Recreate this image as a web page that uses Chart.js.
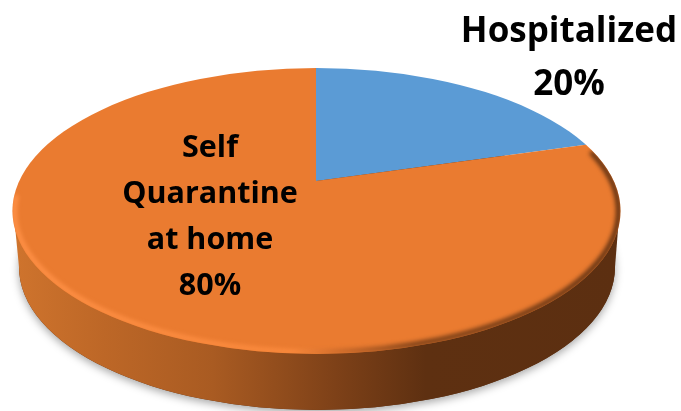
<!DOCTYPE html>
<html>
<head>
<meta charset="utf-8">
<script src="https://cdn.jsdelivr.net/npm/chart.js@4"></script>
<style>
  html, body { margin: 0; padding: 0; background: #fff; }
  canvas { display: block; }
</style>
</head>
<body>
<canvas id="pie" width="681" height="411"></canvas>
<script>
const categories = ["Hospitalized", "Self Quarantine at home"];
const values = [20, 80];
const sliceColors = ["#5b9bd5", "#ea7b30"];
const labelLines = [["Hospitalized"], ["Self", "Quarantine", "at home"]];

// top face of the disc, and where the slices meet (not the ellipse centre, it's in perspective)
const face = { x: 316.5, y: 211, rx: 304, ry: 143 };
const base = { x: 317, y: 267, rx: 298, ry: 143 };
const apex = { x: 316, y: 181 };
const tilt = 0.4134;

const ellipse = (ctx, e) => {
  ctx.beginPath();
  ctx.ellipse(e.x, e.y, e.rx, e.ry, 0, 0, Math.PI * 2);
};

const disc3d = {
  id: "disc3d",
  beforeDatasetsDraw: (chart) => {
    const { ctx } = chart;

    // soft shadow under the disc
    ctx.save();
    ctx.shadowColor = "rgba(0,0,0,0.35)";
    ctx.shadowBlur = 9;
    ctx.shadowOffsetY = 3;
    ctx.fillStyle = "#5c2f11";
    ellipse(ctx, base);
    ctx.fill();
    ctx.restore();

    // side wall
    const wall = ctx.createLinearGradient(face.x - face.rx, 0, face.x + face.rx, 0);
    wall.addColorStop(0, "#cf742d");
    wall.addColorStop(0.15, "#bd6727");
    wall.addColorStop(0.33, "#a95b22");
    wall.addColorStop(0.53, "#7e4118");
    wall.addColorStop(0.68, "#5e3011");
    wall.addColorStop(1, "#5c2f11");
    ctx.save();
    ctx.fillStyle = wall;
    ellipse(ctx, base);
    ctx.fill();
    ctx.beginPath();
    ctx.moveTo(face.x - face.rx + 1, face.y);
    ctx.lineTo(base.x - base.rx, base.y);
    ctx.lineTo(base.x + base.rx, base.y);
    ctx.lineTo(face.x + face.rx - 1, face.y);
    ctx.closePath();
    ctx.fill();
    ctx.restore();

    // slices get squashed around the apex and cut to the top face
    const c = chart.getDatasetMeta(0).data[0];
    ctx.save();
    ellipse(ctx, face);
    ctx.clip();
    ctx.translate(apex.x, apex.y);
    ctx.scale(1, tilt);
    ctx.translate(-c.x, -c.y);
  },
  afterDatasetsDraw: (chart) => {
    const { ctx } = chart;
    ctx.restore();

    // bevel along the front rim, light on the left, dark on the right
    const rim = ctx.createLinearGradient(face.x - face.rx, 0, face.x + face.rx, 0);
    rim.addColorStop(0, "#ff9147");
    rim.addColorStop(0.46, "#fb8a3d");
    rim.addColorStop(0.54, "#c9692a");
    rim.addColorStop(0.66, "#7a3f17");
    rim.addColorStop(1, "#5c2f11");
    ctx.save();
    ellipse(ctx, face);
    ctx.clip();
    ctx.filter = "blur(2px)";
    ctx.strokeStyle = rim;
    ctx.lineWidth = 5;
    ctx.lineCap = "round";
    ctx.beginPath();
    ctx.ellipse(face.x, face.y, face.rx - 2, face.ry - 2, 0, -0.42, Math.PI + 0.1);
    ctx.stroke();
    ctx.restore();
  },
  afterDraw: (chart) => {
    const { ctx } = chart;
    ctx.save();
    ctx.fillStyle = "#000";
    ctx.textAlign = "center";
    ctx.textBaseline = "alphabetic";

    ctx.font = "bold 35px 'Open Sans'";
    ctx.fillText(labelLines[0][0], 569, 42);
    ctx.fillText(values[0] + "%", 569, 95);

    ctx.font = "bold 30.5px 'Open Sans'";
    labelLines[1].forEach((line, i) => {
      ctx.fillText(line, 210, 157 + i * 46);
    });
    ctx.fillText(values[1] + "%", 210, 295);
    ctx.restore();
  },
};

const pie = new Chart(document.getElementById("pie").getContext("2d"), {
  type: "pie",
  data: {
    labels: categories,
    datasets: [
      {
        data: values,
        backgroundColor: sliceColors,
        borderWidth: 0,
        radius: 450,
      },
    ],
  },
  options: {
    responsive: false,
    animation: false,
    plugins: {
      legend: { display: false },
      tooltip: { enabled: false },
    },
  },
  plugins: [disc3d],
});
</script>
</body>
</html>
